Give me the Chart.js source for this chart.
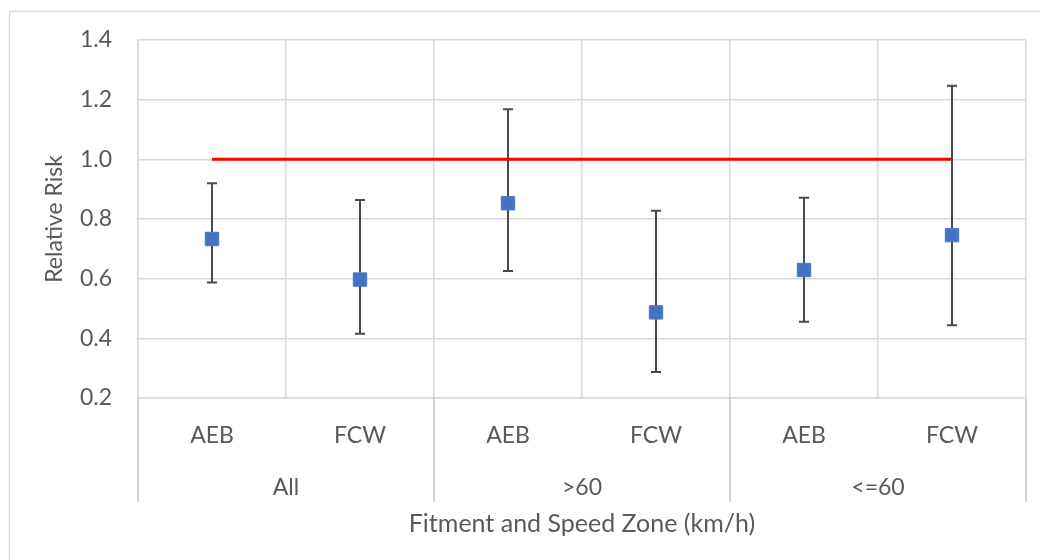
<!DOCTYPE html>
<html><head><meta charset="utf-8">
<script src="https://cdn.jsdelivr.net/npm/chart.js@4/dist/chart.umd.min.js"></script>
<style>html,body{margin:0;padding:0;background:#fff;}#wrap{width:1040px;height:560px;position:relative;}</style>
</head><body><div id="wrap"><canvas id="c" width="1040" height="560"></canvas></div>
<script>
const categories = ['AEB','FCW','AEB','FCW','AEB','FCW'];
const groups = ['All','>60','<=60'];
const relativeRisk = [0.733, 0.597, 0.853, 0.487, 0.629, 0.746];
const lowerCI = [0.587, 0.415, 0.626, 0.287, 0.456, 0.444];
const upperCI = [0.920, 0.864, 1.168, 0.828, 0.871, 1.247];
const referenceLine = [1, 1, 1, 1, 1, 1];
const yMin = 0.2, yMax = 1.4, yStep = 0.2;

const FONT = 'Lato';
const TXT = '#595959';
const GRID = '#d9d9d9';

const frame = {
  id: 'frame',
  beforeDraw(chart) {
    const ctx = chart.ctx;
    ctx.save();
    ctx.fillStyle = '#fff';
    ctx.fillRect(0, 0, chart.width, chart.height);
    ctx.strokeStyle = GRID;
    ctx.lineWidth = 1.5;
    ctx.strokeRect(9.5, 11.5, chart.width + 20, chart.height + 20);
    ctx.restore();
  }
};

const errorBars = {
  id: 'errorBars',
  beforeDatasetsDraw(chart) {
    const x = chart.scales.x, y = chart.scales.y, ctx = chart.ctx;
    ctx.save();
    ctx.strokeStyle = '#4a4a4a';
    ctx.lineWidth = 2;
    relativeRisk.forEach((v, i) => {
      const px = Math.round(x.getPixelForValue(i));
      const lo = y.getPixelForValue(lowerCI[i]);
      const hi = y.getPixelForValue(upperCI[i]);
      ctx.beginPath();
      ctx.moveTo(px, lo); ctx.lineTo(px, hi);
      ctx.moveTo(px - 5, lo); ctx.lineTo(px + 5, lo);
      ctx.moveTo(px - 5, hi); ctx.lineTo(px + 5, hi);
      ctx.stroke();
    });
    ctx.restore();
  }
};

const groupLines = {
  id: 'groupLines',
  afterDraw(chart) {
    const x = chart.scales.x, x2 = chart.scales.x2, ctx = chart.ctx;
    const top = chart.chartArea.bottom;
    const bottom = x2.top + 42;
    ctx.save();
    ctx.strokeStyle = '#c8c8c8';
    ctx.lineWidth = 1.5;
    for (let g = 0; g <= groups.length; g++) {
      const px = x.getPixelForValue(2 * g - 0.5);
      ctx.beginPath();
      ctx.moveTo(px, top);
      ctx.lineTo(px, bottom);
      ctx.stroke();
    }
    ctx.restore();
  }
};

new Chart(document.getElementById('c'), {
  type: 'line',
  data: {
    labels: categories,
    datasets: [
      {
        label: 'Reference',
        data: referenceLine,
        borderColor: '#ff0000',
        borderWidth: 3,
        pointRadius: 0,
        fill: false,
        order: 2
      },
      {
        label: 'Relative Risk',
        data: relativeRisk,
        showLine: false,
        pointStyle: 'rect',
        pointRadius: 9.5,
        pointBackgroundColor: '#4472c4',
        pointBorderColor: '#4a7bc8',
        pointBorderWidth: 1,
        order: 1
      }
    ]
  },
  options: {
    responsive: false,
    animation: false,
    layout: { padding: { left: 0, top: 40, right: 14, bottom: 0 } },
    plugins: { legend: { display: false }, tooltip: { enabled: false } },
    scales: {
      x: {
        type: 'category',
        offset: true,
        grid: { offset: true, color: GRID, lineWidth: 1.5, drawTicks: false },
        border: { color: GRID, width: 1.5 },
        ticks: { color: TXT, font: { family: FONT, size: 23 }, padding: 24, maxRotation: 0, autoSkip: false },
        afterFit(s) { s.height = 62; }
      },
      x2: {
        type: 'category',
        labels: groups,
        position: 'bottom',
        offset: true,
        grid: { display: false, drawTicks: false },
        border: { display: false },
        ticks: { color: TXT, font: { family: FONT, size: 23 }, padding: 14, maxRotation: 0 },
        title: { display: true, text: 'Fitment and Speed Zone (km/h)', color: TXT, font: { family: FONT, size: 25 }, padding: { top: 0, bottom: 21 } },
        afterFit(s) { s.height = 100; }
      },
      y: {
        min: yMin, max: yMax,
        grid: { color: GRID, lineWidth: 1.5, drawTicks: false },
        border: { color: GRID, width: 1.5 },
        ticks: { stepSize: yStep, color: TXT, font: { family: FONT, size: 23 }, padding: 26, callback: v => Number(v).toFixed(1) },
        title: { display: true, text: 'Relative Risk', color: TXT, font: { family: FONT, size: 23 }, padding: { top: 41, bottom: 0 } },
        afterFit(s) { s.width = 138; }
      }
    }
  },
  plugins: [frame, errorBars, groupLines]
});
</script></body></html>
